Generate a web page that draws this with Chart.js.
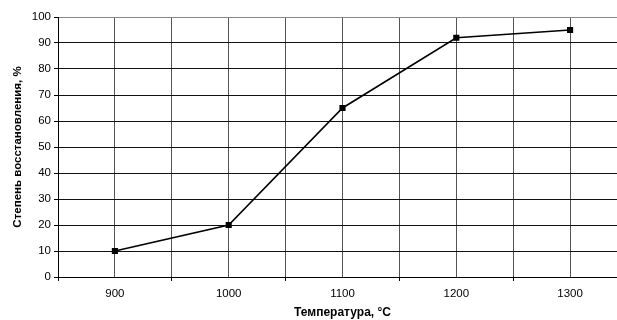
<!DOCTYPE html>
<html lang="ru">
<head>
<meta charset="UTF-8">
<title>Степень восстановления</title>
<script src="https://cdn.jsdelivr.net/npm/chart.js"></script>
<style>
    html, body {
        margin: 0;
        padding: 0;
        background: #fff;
        overflow: hidden;
    }
    #wrap {
        width: 633px;
        height: 320px;
    }
</style>
</head>
<body>
<div id="wrap">
    <canvas id="chart" width="633" height="320"></canvas>
</div>
<script>
    // data
    const temperatures = [900, 1000, 1100, 1200, 1300];
    const reduction = [10, 20, 65, 92, 95];
    const yTicks = [0, 10, 20, 30, 40, 50, 60, 70, 80, 90, 100];

    const font = { family: 'Liberation Sans, Arial, sans-serif', size: 11.5 };
    const xTitleFont = { family: 'Liberation Sans, Arial, sans-serif', size: 12, weight: 'bold' };
    const yTitleFont = { family: 'Liberation Sans, Arial, sans-serif', size: 11.5, weight: 'bold' };

    const points = temperatures.map((t, i) => ({ x: t, y: reduction[i] }));

    new Chart(document.getElementById('chart'), {
        type: 'line',
        data: {
            datasets: [{
                data: points,
                borderColor: '#000',
                backgroundColor: '#000',
                borderWidth: 1.6,
                pointStyle: 'rect',
                pointRadius: 3.2,
                tension: 0
            }]
        },
        options: {
            responsive: false,
            animation: false,
            layout: { padding: { top: 17, right: 1, left: 0, bottom: 0 } },
            plugins: {
                legend: { display: false },
                tooltip: { enabled: false }
            },
            scales: {
                x: {
                    type: 'linear',
                    min: 850,
                    max: 1350,
                    afterBuildTicks: (scale) => {
                        const t = [];
                        for (let v = 850; v <= 1350; v += 50) t.push({ value: v });
                        scale.ticks = t;
                    },
                    afterFit: (scale) => { scale.height = 43; },
                    ticks: {
                        autoSkip: false,
                        maxRotation: 0,
                        color: '#000',
                        font: font,
                        padding: 6,
                        callback: (v) => temperatures.includes(v) ? String(v) : ''
                    },
                    grid: {
                        color: '#555',
                        lineWidth: 1,
                        tickLength: 4,
                        tickColor: (ctx) => (ctx.tick && ctx.tick.value % 100 === 0) ? 'rgba(0,0,0,0)' : '#000'
                    },
                    border: { color: '#000', width: 1 },
                    title: {
                        display: true,
                        text: 'Температура, °C',
                        color: '#000',
                        font: xTitleFont,
                        padding: { top: 6, bottom: 0 }
                    }
                },
                y: {
                    min: 0,
                    max: 100,
                    afterBuildTicks: (scale) => {
                        scale.ticks = yTicks.map(v => ({ value: v }));
                    },
                    afterFit: (scale) => { scale.width = 58; },
                    ticks: {
                        color: '#000',
                        font: font,
                        padding: 3
                    },
                    grid: {
                        color: (ctx) => (ctx.tick && ctx.tick.value === 100) ? '#888' : '#111',
                        lineWidth: 1,
                        tickLength: 4,
                        tickColor: '#000'
                    },
                    border: { color: '#000', width: 1 },
                    title: {
                        display: true,
                        text: 'Степень восстановления, %',
                        color: '#000',
                        font: yTitleFont,
                        padding: { top: 11, bottom: 0 }
                    }
                }
            }
        }
    });
</script>
</body>
</html>
